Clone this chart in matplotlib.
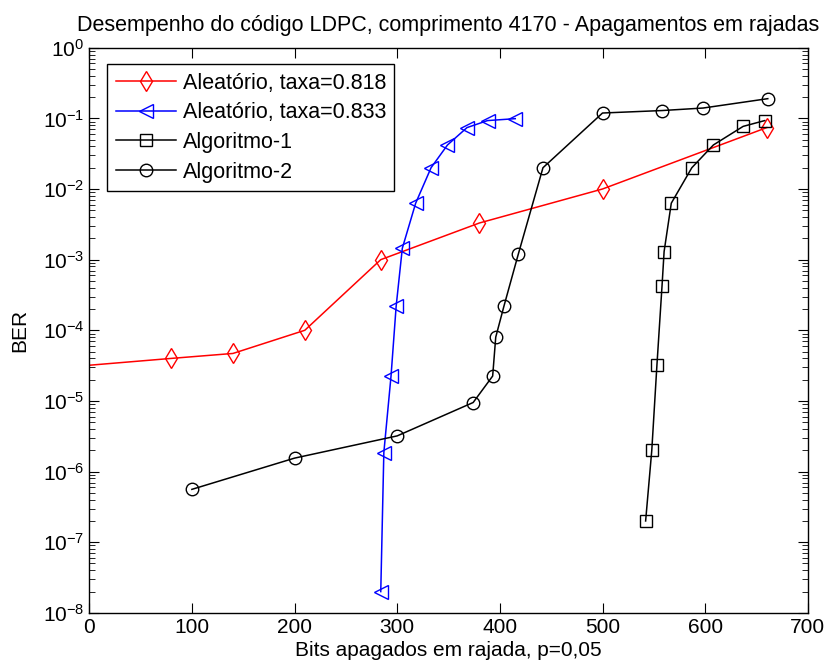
import numpy as np
import matplotlib.pyplot as plt
from matplotlib.ticker import FixedLocator, NullFormatter

plt.rcParams['font.family'] = ['Liberation Sans', 'DejaVu Sans']
plt.rcParams['mathtext.fontset'] = 'custom'
plt.rcParams['mathtext.rm'] = 'Liberation Sans'

# Aleatório, taxa=0.818 (vermelho, losangos)
x_r818 = [0, 80, 140, 210, 284, 380, 500, 660]
ber_r818 = [3.2e-5, 4.0e-5, 4.7e-5, 1.0e-4, 1.0e-3, 3.3e-3, 1.0e-2, 7.4e-2]

# Aleatório, taxa=0.833 (azul, triângulos)
x_r833 = [284, 287, 294, 299, 305, 318, 333, 349, 368, 388, 415]
ber_r833 = [2.0e-8, 1.86e-6, 2.25e-5, 2.2e-4, 1.45e-3, 6.3e-3, 2.0e-2, 4.2e-2, 7.4e-2, 9.3e-2, 9.9e-2]

# Algoritmo-1 (quadrados)
x_alg1 = [542, 548, 553, 558, 560, 567, 587, 608, 637, 658]
ber_alg1 = [2.0e-7, 2.0e-6, 3.2e-5, 4.3e-4, 1.3e-3, 6.3e-3, 2.0e-2, 4.2e-2, 7.7e-2, 9.3e-2]

# Algoritmo-2 (círculos)
x_alg2 = [100, 200, 300, 374, 393, 396, 404, 418, 442, 500, 558, 598, 661]
ber_alg2 = [5.6e-7, 1.55e-6, 3.2e-6, 9.5e-6, 2.25e-5, 8.0e-5, 2.2e-4, 1.2e-3, 2.0e-2, 0.119, 0.129, 0.14, 0.19]

fig = plt.figure(figsize=(8.26, 6.72), dpi=100)
ax = fig.add_axes([0.108, 0.088, 0.870, 0.841])

ms = 10
ax.semilogy(x_r818, ber_r818, color='red', marker='d', mfc='none', ms=ms, lw=1.1,
            markevery=list(range(1, len(x_r818))), label='Aleatório, taxa=0.818')
ax.semilogy(x_r833, ber_r833, color='blue', marker='<', mfc='none', ms=ms, lw=1.1,
            label='Aleatório, taxa=0.833')
ax.semilogy(x_alg1, ber_alg1, color='black', marker='s', mfc='none', ms=ms - 1, lw=1.1,
            label='Algoritmo-1')
ax.semilogy(x_alg2, ber_alg2, color='black', marker='o', mfc='none', ms=ms - 1, lw=1.1,
            label='Algoritmo-2')

ax.set_xlim(0, 700)
ax.set_ylim(1e-8, 1e0)
ax.set_xticks(np.arange(0, 701, 100))
decadas = np.arange(-8, 1)
ax.yaxis.set_major_locator(FixedLocator(10.0 ** decadas))
minor = [m * 10.0 ** d for d in decadas[:-1] for m in range(2, 10)]
ax.yaxis.set_minor_locator(FixedLocator(minor))
ax.yaxis.set_minor_formatter(NullFormatter())
ax.set_yticklabels([r'$\mathdefault{10^{%d}}$' % d for d in decadas])
ax.tick_params(which='both', direction='in', top=True, right=True, labelsize=15)
ax.tick_params(which='major', length=7)
ax.tick_params(which='minor', length=4)
for s in ax.spines.values():
    s.set_linewidth(1.0)

ax.set_xlabel('Bits apagados em rajada, p=0,05', fontsize=15, labelpad=3)
ax.set_ylabel('BER', fontsize=15, labelpad=10)
ax.set_title('Desempenho do código LDPC, comprimento 4170 - Apagamentos em rajadas',
             fontsize=15.5, pad=12)

leg = ax.legend(loc='upper left', fontsize=15.5, fancybox=False, framealpha=1,
                edgecolor='black', handlelength=2.8, borderpad=0.4, labelspacing=0.4,
                handletextpad=0.3, bbox_to_anchor=(0.01, 0.99))
leg.get_frame().set_linewidth(1.0)

fig.savefig('out.png', dpi=100)
